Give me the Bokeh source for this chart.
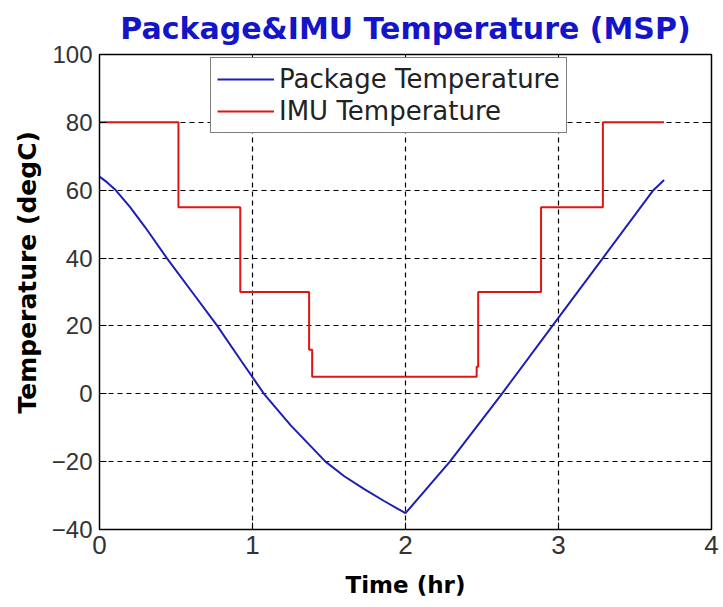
from bokeh.plotting import figure
from bokeh.models import FixedTicker, LinearAxis, Legend, LegendItem, Title
from bokeh.embed import file_html
from bokeh.resources import INLINE

# Package temperature (time in hr, degC)
pkg_time = [0.0, 0.05, 0.10, 0.20, 0.30, 0.44, 0.61, 0.77, 0.92, 1.075, 1.25, 1.477, 1.60, 1.728, 1.86, 2.0,
            2.29, 2.63, 2.96, 3.29, 3.62, 3.69]
pkg_temp = [64.0, 62.3, 60.3, 55.0, 49.0, 40.0, 29.7, 20.0, 10.1, 0.0, -9.3, -20.0, -24.3, -28.0, -31.6, -35.2,
            -20.0, 0.0, 20.0, 40.0, 60.0, 63.0]

# IMU temperature (step profile)
imu_time = [0.0, 0.516, 0.516, 0.92, 0.92, 1.37, 1.37, 1.39, 1.39, 2.465, 2.465, 2.475, 2.475,
            2.886, 2.886, 3.29, 3.29, 3.69]
imu_temp = [80, 80, 55, 55, 30, 30, 13, 13, 5, 5, 8, 8, 30,
            30, 55, 55, 80, 80]

x_ticks = [0, 1, 2, 3, 4]
y_ticks = [-40, -20, 0, 20, 40, 60, 80, 100]

W, H = 723, 607
left, right, top, bottom = 99, 12, 54, 78

p = figure(width=W, height=H, x_range=(0, 4), y_range=(-40, 100),
           output_backend="svg", toolbar_location=None,
           min_border_left=left, min_border_right=right,
           min_border_top=top, min_border_bottom=bottom)

p.title.text = "Package&IMU Temperature (MSP)"
p.title.text_font = "DejaVu Sans"
p.title.text_font_style = "bold"
p.title.text_font_size = "30px"
p.title.text_color = "#1414C8"
p.title.align = "center"
p.title.vertical_align = "top"
p.title.offset = 0
p.title.standoff = 14

p.outline_line_color = "black"
p.outline_line_width = 1.5
p.background_fill_color = "white"
p.border_fill_color = "white"

for ax in (p.xaxis[0], p.yaxis[0]):
    ax.major_tick_in = 7
    ax.major_tick_out = 0
    ax.minor_tick_in = 0
    ax.minor_tick_out = 0
    ax.axis_line_color = "black"
    ax.major_tick_line_color = "black"
    ax.major_label_text_font = "Liberation Sans"
    ax.major_label_text_color = "#333333"
    ax.axis_label_text_font = "DejaVu Sans"
    ax.axis_label_text_font_style = "bold"
    ax.axis_label_text_color = "black"

p.xaxis[0].ticker = FixedTicker(ticks=x_ticks)
p.yaxis[0].ticker = FixedTicker(ticks=y_ticks)
p.xaxis[0].major_label_text_font_size = "26px"
p.yaxis[0].major_label_text_font_size = "24px"
p.xaxis[0].major_label_standoff = 6
p.yaxis[0].major_label_standoff = 7
p.xaxis[0].axis_label = "Time (hr)"
p.xaxis[0].axis_label_text_font_size = "23px"
p.xaxis[0].axis_label_standoff = 15

# y-axis title as a side title, shifted upward as in the reference
ytitle = Title(text="Temperature (degC)", align="left", offset=116, standoff=14,
               text_font="DejaVu Sans", text_font_style="bold", text_font_size="25px",
               text_color="black")
p.add_layout(ytitle, "left")

# mirrored tick-only axes (top and right)
top_ax = LinearAxis(ticker=FixedTicker(ticks=x_ticks), major_label_text_font_size="0px",
                    major_label_text_color=None,
                    major_tick_in=7, major_tick_out=0, minor_tick_in=0, minor_tick_out=0,
                    axis_line_color=None, major_label_standoff=0)
right_ax = LinearAxis(ticker=FixedTicker(ticks=y_ticks), major_label_text_font_size="0px",
                      major_label_text_color=None,
                      major_tick_in=7, major_tick_out=0, minor_tick_in=0, minor_tick_out=0,
                      axis_line_color=None, major_label_standoff=0)
p.add_layout(top_ax, "above")
p.add_layout(right_ax, "right")

for g in (p.xgrid[0], p.ygrid[0]):
    g.grid_line_color = "black"
    g.grid_line_dash = "5 4"
    g.grid_line_width = 1.2
p.xgrid[0].ticker = FixedTicker(ticks=x_ticks)
p.ygrid[0].ticker = FixedTicker(ticks=y_ticks)

r_pkg = p.line(pkg_time, pkg_temp, line_color="#1E1EB4", line_width=2)
r_imu = p.line(imu_time, imu_temp, line_color="#E01414", line_width=2)

frame_h = H - top - bottom
leg_h = 70
legend = Legend(items=[LegendItem(label="Package Temperature", renderers=[r_pkg]),
                       LegendItem(label="IMU Temperature", renderers=[r_imu])],
                location=(111, frame_h - 9 - leg_h))
legend.label_text_font = "DejaVu Sans"
legend.label_text_font_size = "26px"
legend.label_text_color = "#222222"
legend.glyph_width = 57
legend.glyph_height = 28
legend.label_height = 28
legend.label_standoff = 5
legend.padding = 6
legend.spacing = 2
legend.margin = 0
legend.border_line_color = "black"
legend.border_line_width = 1.5
legend.background_fill_color = "white"
legend.background_fill_alpha = 1.0
p.add_layout(legend)

open("out.html", "w").write(file_html(p, INLINE))
